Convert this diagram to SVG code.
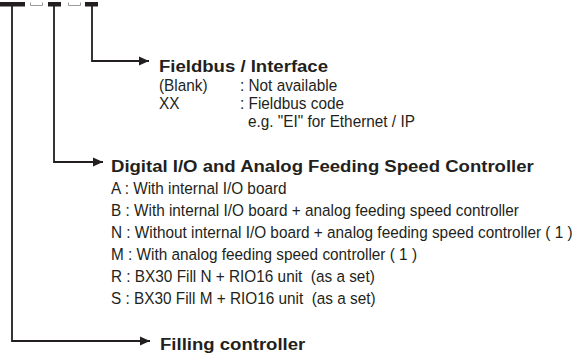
<svg xmlns="http://www.w3.org/2000/svg" width="582" height="353" viewBox="0 0 582 353">
<defs>
<style>
.h{font-family:"Liberation Sans",Arial,sans-serif;font-weight:bold;font-size:16px;fill:#231f20}
.t{font-family:"Liberation Sans",Arial,sans-serif;font-size:16.5px;fill:#231f20;white-space:pre}
.bar{fill:#231f20}
.br{fill:none;stroke:#9a9a9a;stroke-width:1}
.ln{fill:none;stroke:#231f20;stroke-width:1.8}
</style>
<marker id="ah" markerWidth="12" markerHeight="12" refX="10" refY="5.5" orient="auto" markerUnits="userSpaceOnUse">
<path d="M0,1 L10,5.5 L0,10 Z" fill="#231f20"/>
</marker>
</defs>
<g id="code">
<rect class="bar" x="0" y="2" width="25" height="4.5"/>
<path class="br" d="M30.5,2.5 V5.5 H42.5 V2.5"/>
<rect class="bar" x="48" y="2" width="13" height="4.5"/>
<path class="br" d="M68.5,2.5 V5.5 H80.5 V2.5"/>
<rect class="bar" x="85" y="2" width="13" height="4.5"/>
</g>
<g id="connectors">
<path class="ln" d="M12,5 V341 H150" marker-end="url(#ah)"/>
<path class="ln" d="M54,5 V162 H103" marker-end="url(#ah)"/>
<path class="ln" d="M92,5 V61 H149" marker-end="url(#ah)"/>
</g>
<g id="fieldbus">
<text class="h" transform="translate(159,72) scale(1.16,1)">Fieldbus / Interface</text>
<text class="t" transform="translate(159,91) scale(0.93,1)">(Blank)</text>
<text class="t" transform="translate(240,91) scale(0.93,1)">: Not available</text>
<text class="t" transform="translate(159,109) scale(0.93,1)">XX</text>
<text class="t" transform="translate(240,109) scale(0.93,1)">: Fieldbus code</text>
<text class="t" transform="translate(248,127) scale(0.93,1)">e.g. "EI" for Ethernet / IP</text>
</g>
<g id="digital">
<text class="h" transform="translate(111,172) scale(1.16,1)">Digital I/O and Analog Feeding Speed Controller</text>
<text class="t" transform="translate(111,194) scale(0.93,1)">A : With internal I/O board</text>
<text class="t" transform="translate(111,216) scale(0.93,1)">B : With internal I/O board + analog feeding speed controller</text>
<text class="t" transform="translate(111,238) scale(0.93,1)">N : Without internal I/O board + analog feeding speed controller ( 1 )</text>
<text class="t" transform="translate(111,260) scale(0.93,1)">M : With analog feeding speed controller ( 1 )</text>
<text class="t" transform="translate(111,282) scale(0.93,1)">R : BX30 Fill N + RIO16 unit  (as a set)</text>
<text class="t" transform="translate(111,304) scale(0.93,1)">S : BX30 Fill M + RIO16 unit  (as a set)</text>
</g>
<g id="filling">
<text class="h" transform="translate(160,350) scale(1.16,1)">Filling controller</text>
</g>
</svg>
